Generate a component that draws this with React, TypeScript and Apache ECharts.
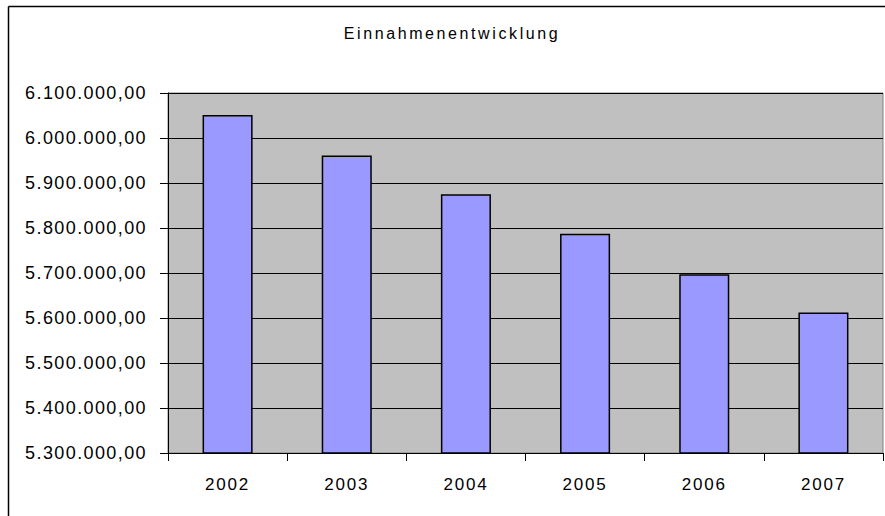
import React, { useEffect, useRef } from "react";
import * as echarts from "echarts";

const titleText = "Einnahmenentwicklung";
const years = ["2002", "2003", "2004", "2005", "2006", "2007"];
const einnahmen = [6051000, 5961000, 5875000, 5787000, 5697000, 5612000];
const yMin = 5300000;
const yMax = 6100000;
const yStep = 100000;

function formatDE(v: number): string {
  const s = Math.round(v).toString();
  const parts: string[] = [];
  for (let i = s.length; i > 0; i -= 3) {
    parts.unshift(s.substring(Math.max(0, i - 3), i));
  }
  return parts.join(".") + ",00";
}

export default function App() {
  const ref = useRef<HTMLDivElement>(null);
  useEffect(() => {
    document.body.style.margin = "0";
    if (!ref.current) return;
    const chart = echarts.init(ref.current, undefined, { renderer: "svg" });
    const font = "'Liberation Sans', Arial, sans-serif";
    const applySpacing = () => {
      const dom = chart.getDom();
      dom.querySelectorAll("text").forEach((t) => {
        const txt = t.textContent || "";
        let ls = "";
        if (txt === titleText) ls = "2.6px";
        else if (years.indexOf(txt) >= 0) ls = "1.8px";
        else if (txt.indexOf(",00") >= 0) ls = "1.4px";
        if (ls) (t as SVGTextElement).style.letterSpacing = ls;
      });
    };
    chart.on("finished", applySpacing);
    chart.setOption({
      animation: false,
      backgroundColor: "#ffffff",
      graphic: [
        { type: "line", shape: { x1: 8.5, y1: 6.5, x2: 885, y2: 6.5 }, style: { stroke: "#000", lineWidth: 1.5 } },
        { type: "line", shape: { x1: 8.5, y1: 6.5, x2: 8.5, y2: 516 }, style: { stroke: "#000", lineWidth: 1.5 } },
        {
          type: "text",
          x: 452,
          y: 33,
          style: {
            text: titleText,
            fontFamily: font,
            fontSize: 16,
            fill: "#000",
            textAlign: "center",
            textVerticalAlign: "middle",
          },
        },
      ],
      grid: {
        left: 168,
        top: 93,
        right: 2,
        bottom: 63,
        show: true,
        backgroundColor: "#C0C0C0",
        borderColor: "#808080",
        borderWidth: 1,
      },
      xAxis: {
        type: "category",
        data: years,
        boundaryGap: true,
        axisLine: { show: true, lineStyle: { color: "#000", width: 1 } },
        axisTick: { show: true, alignWithLabel: false, length: 8, lineStyle: { color: "#000" } },
        axisLabel: { margin: 23, fontFamily: font, fontSize: 17, color: "#000" },
        splitLine: { show: false },
      },
      yAxis: {
        type: "value",
        min: yMin,
        max: yMax,
        interval: yStep,
        axisLine: { show: true, lineStyle: { color: "#000", width: 1 } },
        axisTick: { show: true, length: 8, lineStyle: { color: "#000" } },
        axisLabel: {
          margin: 21,
          fontFamily: font,
          fontSize: 18,
          color: "#000",
          formatter: (v: number) => formatDE(v),
        },
        splitLine: { show: true, lineStyle: { color: "#000", width: 1 } },
      },
      series: [
        {
          type: "bar",
          data: einnahmen,
          barWidth: "42%",
          itemStyle: { color: "#9999FF", borderColor: "#000", borderWidth: 1.5 },
        },
      ],
    });
    applySpacing();
    return () => chart.dispose();
  }, []);
  return <div ref={ref} style={{ width: 885, height: 516 }} />;
}
